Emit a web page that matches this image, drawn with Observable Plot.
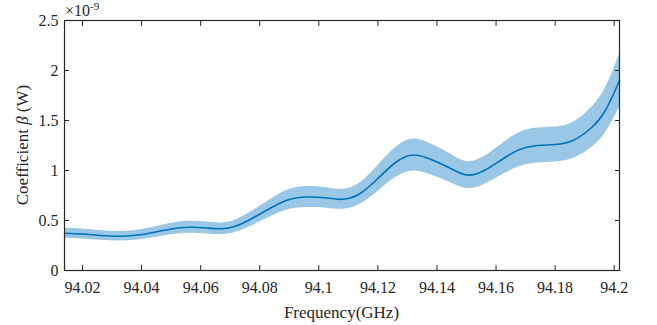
<!DOCTYPE html>
<html><head><meta charset="utf-8">
<script src="https://cdn.jsdelivr.net/npm/d3@7"></script>
<script src="https://cdn.jsdelivr.net/npm/@observablehq/plot@0.6"></script>
<style>body{margin:0;background:#fff} #chart svg{display:block} #chart svg text{font-family:'Liberation Serif','Times New Roman',serif}</style>
</head><body><div id="chart"></div>
<script>
// Frequency (GHz)
const freq  = [94.0139, 94.020, 94.026, 94.032, 94.038, 94.044, 94.050, 94.056, 94.062, 94.067, 94.072, 94.078, 94.084, 94.090, 94.096, 94.102, 94.108, 94.114, 94.120, 94.126, 94.132, 94.138, 94.144, 94.150, 94.156, 94.162, 94.168, 94.174, 94.180, 94.186, 94.192, 94.197, 94.2018];
// Coefficient beta (x1e-9 W): mean and confidence band
const mean  = [0.373, 0.365, 0.350, 0.343, 0.352, 0.380, 0.415, 0.432, 0.425, 0.418, 0.445, 0.53, 0.63, 0.71, 0.735, 0.728, 0.712, 0.77, 0.92, 1.08, 1.155, 1.11, 1.03, 0.955, 1.00, 1.11, 1.21, 1.25, 1.26, 1.30, 1.42, 1.60, 1.90];
const lower = [0.323, 0.315, 0.302, 0.295, 0.303, 0.327, 0.357, 0.372, 0.366, 0.36, 0.383, 0.456, 0.542, 0.61, 0.63, 0.626, 0.612, 0.662, 0.79, 0.93, 0.995, 0.955, 0.885, 0.82, 0.86, 0.955, 1.04, 1.075, 1.085, 1.12, 1.22, 1.375, 1.63];
const upper = [0.423, 0.415, 0.398, 0.391, 0.401, 0.433, 0.473, 0.492, 0.484, 0.476, 0.507, 0.604, 0.718, 0.81, 0.84, 0.83, 0.812, 0.878, 1.05, 1.23, 1.315, 1.265, 1.175, 1.09, 1.14, 1.265, 1.38, 1.425, 1.435, 1.48, 1.62, 1.825, 2.16];

const xTicks = [94.02, 94.04, 94.06, 94.08, 94.1, 94.12, 94.14, 94.16, 94.18, 94.2];
const xTickLabels = ["94.02", "94.04", "94.06", "94.08", "94.1", "94.12", "94.14", "94.16", "94.18", "94.2"];
const yTicks = [0, 0.5, 1, 1.5, 2, 2.5];
const yTickLabels = ["0", "0.5", "1", "1.5", "2", "2.5"];
const xLabel = "Frequency(GHz)";
const yLabelParts = ["Coefficient ", "β", " (W)"];
const exponentBase = "×10";
const exponentPower = "-9";

const data = freq.map((f, i) => ({f, m: mean[i], lo: lower[i], hi: upper[i]}));
const ink = "#262626";
const blue = "#0072BD";
const font = "'Liberation Serif', 'Times New Roman', serif";

const chart = Plot.plot({
  width: 657, height: 325,
  marginLeft: 64, marginRight: 38, marginTop: 20, marginBottom: 55,
  style: {fontFamily: font, fontSize: "16px", color: ink, background: "#fff"},
  x: {domain: [94.0139, 94.2018]},
  y: {domain: [0, 2.5]},
  marks: [
    Plot.areaY(data, {x: "f", y1: "lo", y2: "hi", fill: blue, fillOpacity: 0.4, curve: "natural"}),
    Plot.line(data, {x: "f", y: "m", stroke: blue, strokeWidth: 1.6, curve: "natural"}),
    Plot.axisX({anchor: "bottom", ticks: xTicks, tickSize: -5, tickPadding: 16, stroke: ink, fill: ink,
      tickFormat: d => xTickLabels[xTicks.indexOf(d)], label: null}),
    Plot.axisX({anchor: "top", ticks: xTicks, tickSize: -5, tickFormat: () => "", label: null, stroke: ink}),
    Plot.axisY({anchor: "left", ticks: yTicks, tickSize: -5, tickPadding: 11, stroke: ink, fill: ink,
      tickFormat: d => yTickLabels[yTicks.indexOf(d)], label: null}),
    Plot.axisY({anchor: "right", ticks: yTicks, tickSize: -5, tickFormat: () => "", label: null, stroke: ink}),
    Plot.frame({stroke: ink, strokeWidth: 1.2})
  ]
});
document.getElementById("chart").append(chart);

const svg = d3.select(chart);
svg.selectAll("text").style("font-family", font);
// x label
svg.append("text").attr("x", 341.5).attr("y", 318).attr("text-anchor", "middle")
  .style("font-family", font).attr("font-size", 17).attr("fill", ink).text(xLabel);
// y label
const yl = svg.append("text").attr("transform", "translate(28,145) rotate(-90)").attr("text-anchor", "middle")
  .style("font-family", font).attr("font-size", 17).attr("fill", ink);
yl.append("tspan").text(yLabelParts[0]);
yl.append("tspan").attr("font-style", "italic").text(yLabelParts[1]);
yl.append("tspan").text(yLabelParts[2]);
// exponent
const ex = svg.append("text").attr("x", 65).attr("y", 16).attr("text-anchor", "start")
  .style("font-family", font).attr("font-size", 16).attr("fill", ink);
ex.append("tspan").text(exponentBase);
ex.append("tspan").attr("font-size", 11).attr("dy", -6).text(exponentPower);
</script>
</body></html>
